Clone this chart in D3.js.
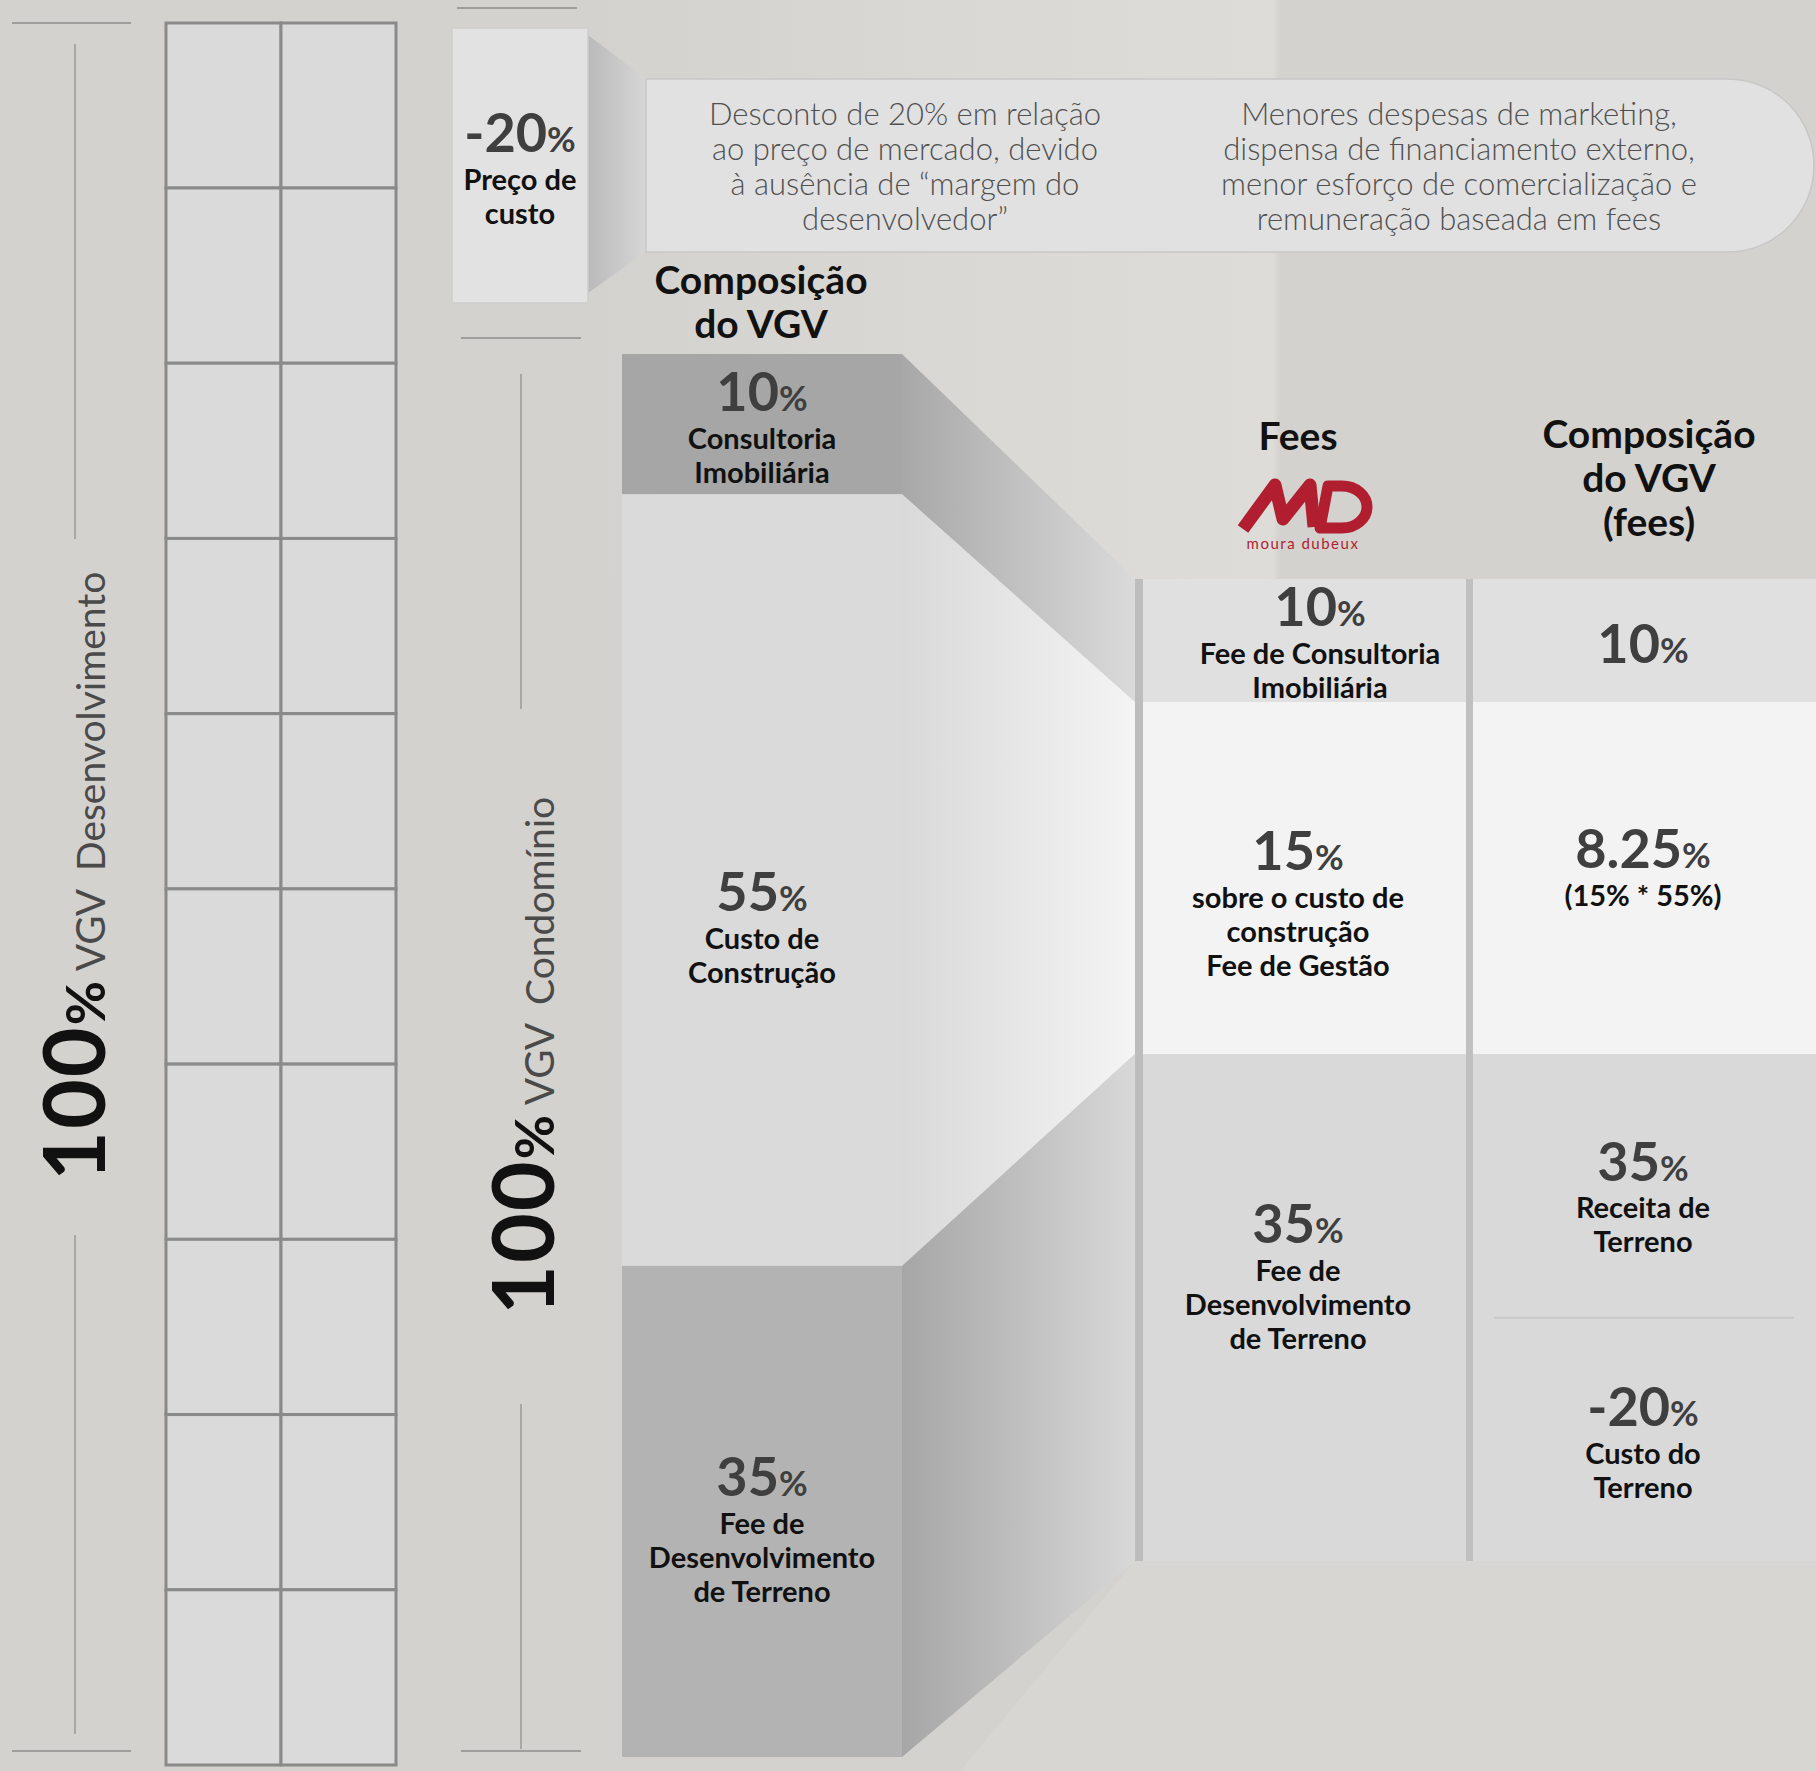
<!DOCTYPE html>
<html>
<head>
<meta charset="utf-8">
<script src="https://cdn.jsdelivr.net/npm/d3@7"></script>
<style>
  body { margin: 0; background: #d4d2ce; }
  svg { display: block; font-family: Lato, "Open Sans", sans-serif; }
</style>
</head>
<body>
<div id="chart-area"></div>
<script>
// ---- values ----
var vgvShare = [10, 55, 35];
var vgvNames = [["Consultoria", "Imobiliária"], ["Custo de", "Construção"], ["Fee de", "Desenvolvimento", "de Terreno"]];
var feeShare = [10, 15, 35];
var feeNames = [["Fee de Consultoria", "Imobiliária"], ["sobre o custo de", "construção", "Fee de Gestão"], ["Fee de", "Desenvolvimento", "de Terreno"]];
var feeVgv = ["10", "8.25", "35", "-20"];
var feeVgvNames = [[], ["(15% * 55%)"], ["Receita de", "Terreno"], ["Custo do", "Terreno"]];
var costDiscount = "-20";
var costNames = ["Preço de", "custo"];
var notesLeft = ["Desconto de 20% em relação", "ao preço de mercado, devido", "à ausência de “margem do", "desenvolvedor”"];
var notesRight = ["Menores despesas de marketing,", "dispensa de financiamento externo,", "menor esforço de comercialização e", "remuneração baseada em fees"];
var gridRows = 10, gridCols = 2;

// ---- layout ----
var width = 1816, height = 1771;
var col1 = [622, 902], col3 = [1135, 1466], col4 = [1466, 1816];
var vgvColors = ["#a6a6a6", "#dadada", "#b3b3b3"];
var feeColors = ["#e0e0e0", "#f3f3f3", "#d9d9d9"];
var linkColors = [["#a8a8a8", "#dadada"], ["#d9d9d9", "#f4f4f4"], ["#a6a6a6", "#d8d8d8"]];
var lineColor = "#8c8c8c";

var svg = d3.select("#chart-area").append("svg")
    .attr("width", width)
    .attr("height", height);
var defs = svg.append("defs");

// background, with a soft lighter patch behind the top middle
var bg = defs.append("linearGradient").attr("id", "bgband");
bg.append("stop").attr("offset", 0).attr("stop-color", "#d4d2ce");
bg.append("stop").attr("offset", 0.6).attr("stop-color", "#dbd9d6");
bg.append("stop").attr("offset", 0.99).attr("stop-color", "#dedcd9");
bg.append("stop").attr("offset", 1).attr("stop-color", "#d3d1cd");
svg.append("rect").attr("width", width).attr("height", height).attr("fill", "#d4d2ce");
svg.append("rect").attr("x", 600).attr("y", 0).attr("width", 680).attr("height", 580).attr("fill", "url(#bgband)");
svg.append("path").attr("d", "M1135,1561 L1816,1561 L1816,1771 L960,1771 Z").attr("fill", "#d8d6d3");

// scales
var yVgv = d3.scaleLinear().domain([0, d3.sum(vgvShare)]).range([354, 1757]);
var feeCum = [0].concat(Array.from(d3.cumsum(feeShare)));
var yFee = d3.scaleLinear().domain(feeCum).range([579, 702, 1054, 1561]);
var yGrid = d3.scaleLinear().domain([0, 1, gridRows]).range([23, 188, 1765]);
var xGrid = d3.scaleLinear().domain([0, gridCols]).range([166, 396]);
var vgvCum = [0].concat(Array.from(d3.cumsum(vgvShare)));

// helper: big number with small % then labels underneath
function blockText(g, cx, cy, num, lines, numSize) {
    numSize = numSize || 54;
    var span = lines.length ? 47 + 34 * (lines.length - 1) : 0;
    var y0 = cy - span / 2;
    var t = g.append("text")
        .attr("x", cx).attr("y", y0 + numSize * 0.36)
        .attr("text-anchor", "middle")
        .attr("fill", "#3f3f3f")
        .attr("font-weight", 700);
    t.append("tspan").attr("font-size", numSize + "px").text(num);
    t.append("tspan").attr("font-size", Math.round(numSize * 0.64) + "px").text("%");
    lines.forEach(function(l, i) {
        g.append("text")
            .attr("x", cx).attr("y", y0 + 47 + 34 * i + 10)
            .attr("text-anchor", "middle")
            .attr("font-size", "29px")
            .attr("font-weight", 700)
            .attr("fill", "#111")
            .text(l);
    });
}

// ---- left: 100% VGV Desenvolvimento + grid ----
svg.append("line").attr("x1", 12).attr("x2", 131).attr("y1", 23).attr("y2", 23).attr("stroke", lineColor).attr("stroke-width", 1.5);
svg.append("line").attr("x1", 12).attr("x2", 131).attr("y1", 1751).attr("y2", 1751).attr("stroke", lineColor).attr("stroke-width", 1.5);
svg.append("line").attr("x1", 75).attr("x2", 75).attr("y1", 44).attr("y2", 539).attr("stroke", lineColor).attr("stroke-width", 1.2);
svg.append("line").attr("x1", 75).attr("x2", 75).attr("y1", 1235).attr("y2", 1734).attr("stroke", lineColor).attr("stroke-width", 1.2);

function rotatedTitle(x, y, name) {
    var t = svg.append("text")
        .attr("transform", "translate(" + x + "," + y + ") rotate(-90)")
        .attr("text-anchor", "start");
    t.append("tspan").attr("font-size", "86px").attr("font-weight", 700).attr("fill", "#111").attr("letter-spacing", "2px").text("100");
    t.append("tspan").attr("font-size", "54px").attr("font-weight", 700).attr("fill", "#111").text("%");
    t.append("tspan").attr("font-size", "40px").attr("fill", "#4a4a4a").attr("dx", 10).text("VGV");
    t.append("tspan").attr("font-size", "39px").attr("fill", "#4a4a4a").attr("dx", 18).text(name);
}
rotatedTitle(105, 1181, "Desenvolvimento");

var cells = [];
for (var r = 0; r < gridRows; r++) for (var c = 0; c < gridCols; c++) cells.push({ r: r, c: c });
svg.append("g").selectAll("rect").data(cells).enter().append("rect")
    .attr("x", function(d) { return xGrid(d.c); })
    .attr("y", function(d) { return yGrid(d.r); })
    .attr("width", function(d) { return xGrid(d.c + 1) - xGrid(d.c); })
    .attr("height", function(d) { return yGrid(d.r + 1) - yGrid(d.r); })
    .attr("fill", "#dadada")
    .attr("stroke", "#8a8a8a")
    .attr("stroke-width", 3);

// ---- second column: cost price box + notes banner ----
svg.append("line").attr("x1", 457).attr("x2", 577).attr("y1", 8).attr("y2", 8).attr("stroke", lineColor).attr("stroke-width", 1.5);
svg.append("line").attr("x1", 461).attr("x2", 581).attr("y1", 338).attr("y2", 338).attr("stroke", lineColor).attr("stroke-width", 1.5);
svg.append("line").attr("x1", 461).attr("x2", 581).attr("y1", 1751).attr("y2", 1751).attr("stroke", lineColor).attr("stroke-width", 1.5);
svg.append("line").attr("x1", 521).attr("x2", 521).attr("y1", 374).attr("y2", 709).attr("stroke", lineColor).attr("stroke-width", 1.2);
svg.append("line").attr("x1", 521).attr("x2", 521).attr("y1", 1404).attr("y2", 1749).attr("stroke", lineColor).attr("stroke-width", 1.2);
rotatedTitle(554, 1315, "Condomínio");

var gBox = defs.append("linearGradient").attr("id", "gbox");
gBox.append("stop").attr("offset", 0).attr("stop-color", "#bababa");
gBox.append("stop").attr("offset", 1).attr("stop-color", "#d6d6d6");
svg.append("path").attr("d", "M588,35 L646,79 L646,252 L588,293 Z").attr("fill", "url(#gbox)");

svg.append("path")
    .attr("d", "M646,79 L1728,79 A86,86.5 0 0 1 1728,252 L646,252 Z")
    .attr("fill", "#e1e1e1")
    .attr("stroke", "#c7c7c7")
    .attr("stroke-width", 1.5);

svg.append("rect").attr("x", 452).attr("y", 28).attr("width", 136).attr("height", 275)
    .attr("fill", "#e2e2e2").attr("stroke", "#cdcdcd").attr("stroke-width", 1.5);
blockText(svg, 520, 173, costDiscount, costNames);

function notes(cx, lines) {
    lines.forEach(function(l, i) {
        svg.append("text")
            .attr("x", cx).attr("y", 125 + 35 * i)
            .attr("text-anchor", "middle")
            .attr("font-size", "31px")
            .attr("font-weight", 300)
            .attr("fill", "#505050")
            .text(l);
    });
}
notes(905, notesLeft);
notes(1459, notesRight);

// ---- headers ----
function header(cx, y0, lines) {
    lines.forEach(function(l, i) {
        svg.append("text")
            .attr("x", cx).attr("y", y0 + 44 * i)
            .attr("text-anchor", "middle")
            .attr("font-size", "39px")
            .attr("font-weight", 700)
            .attr("fill", "#111")
            .text(l);
    });
}
header(761, 294, ["Composição", "do VGV"]);
header(1298, 450, ["Fees"]);
header(1649, 448, ["Composição", "do VGV", "(fees)"]);

// logo
var logo = svg.append("g").attr("fill", "none").attr("stroke", "#b01e30").attr("stroke-width", 13).attr("stroke-linejoin", "round");
logo.append("path").attr("d", "M1243,529 L1275,485 L1283,519 L1310,485 L1314,527");
logo.append("path").attr("d", "M1320,528 L1328,486 L1342,486 A25,21 0 0 1 1342,528 Z").attr("stroke-width", 11);
svg.append("text").attr("x", 1303).attr("y", 549).attr("text-anchor", "middle")
    .attr("font-size", "15px").attr("fill", "#b01e30").attr("letter-spacing", "1.5px").text("moura dubeux");

// ---- connectors between VGV and fees ----
vgvShare.forEach(function(v, i) {
    var gr = defs.append("linearGradient").attr("id", "link" + i);
    gr.append("stop").attr("offset", 0).attr("stop-color", linkColors[i][0]);
    gr.append("stop").attr("offset", 1).attr("stop-color", linkColors[i][1]);
    var pts = [[col1[1], yVgv(vgvCum[i])], [col3[0], yFee(feeCum[i])],
               [col3[0], yFee(feeCum[i + 1])], [col1[1], yVgv(vgvCum[i + 1])]];
    svg.append("path").attr("d", "M" + pts.join("L") + "Z").attr("fill", "url(#link" + i + ")");
});

// ---- VGV column ----
var gV = svg.append("g");
gV.selectAll("rect").data(vgvShare).enter().append("rect")
    .attr("x", col1[0])
    .attr("y", function(d, i) { return yVgv(vgvCum[i]); })
    .attr("width", col1[1] - col1[0])
    .attr("height", function(d) { return yVgv(d) - yVgv(0); })
    .attr("fill", function(d, i) { return vgvColors[i]; });
var vgvNudge = [8, 52, 23];
vgvShare.forEach(function(v, i) {
    var cy = (yVgv(vgvCum[i]) + yVgv(vgvCum[i + 1])) / 2 + vgvNudge[i];
    blockText(gV, (col1[0] + col1[1]) / 2, cy, v, vgvNames[i]);
});

// ---- Fees column ----
var gF = svg.append("g");
gF.selectAll("rect").data(feeShare).enter().append("rect")
    .attr("x", col3[0])
    .attr("y", function(d, i) { return yFee(feeCum[i]); })
    .attr("width", col3[1] - col3[0])
    .attr("height", function(d, i) { return yFee(feeCum[i + 1]) - yFee(feeCum[i]); })
    .attr("fill", function(d, i) { return feeColors[i]; });
gF.append("rect").attr("x", col3[0]).attr("y", yFee(0)).attr("width", 8)
    .attr("height", yFee(d3.sum(feeShare)) - yFee(0)).attr("fill", "#bdbdbd");
var feeNudge = [7, 30, -26];
var feeX = [1320, 1298, 1298];
feeShare.forEach(function(v, i) {
    var cy = (yFee(feeCum[i]) + yFee(feeCum[i + 1])) / 2 + feeNudge[i];
    blockText(gF, feeX[i], cy, v, feeNames[i]);
});

// ---- Fees VGV column ----
var gC = svg.append("g");
gC.selectAll("rect").data(feeShare).enter().append("rect")
    .attr("x", col4[0])
    .attr("y", function(d, i) { return yFee(feeCum[i]); })
    .attr("width", col4[1] - col4[0])
    .attr("height", function(d, i) { return yFee(feeCum[i + 1]) - yFee(feeCum[i]); })
    .attr("fill", function(d, i) { return feeColors[i]; });
gC.append("rect").attr("x", col4[0]).attr("y", yFee(0)).attr("width", 7)
    .attr("height", yFee(d3.sum(feeShare)) - yFee(0)).attr("fill", "#c0c0c0");
var split = yFee(feeCum[2]) + 0.52 * (yFee(feeCum[3]) - yFee(feeCum[2]));
gC.append("line").attr("x1", 1494).attr("x2", 1794).attr("y1", split).attr("y2", split)
    .attr("stroke", "#c9c9c9").attr("stroke-width", 2);
var cx4 = 1643;
var spans = [[yFee(feeCum[0]), yFee(feeCum[1])], [yFee(feeCum[1]), yFee(feeCum[2])],
             [yFee(feeCum[2]), split], [split, yFee(feeCum[3])]];
var cNudge = [3, -6, 16, 8];
feeVgv.forEach(function(v, i) {
    var cy = (spans[i][0] + spans[i][1]) / 2 + cNudge[i];
    blockText(gC, cx4, cy, v, feeVgvNames[i]);
});
</script>
</body>
</html>
